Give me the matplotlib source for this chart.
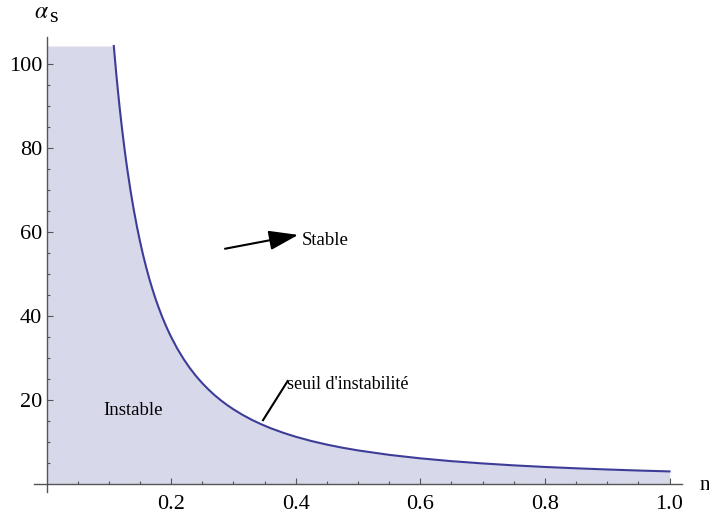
import numpy as np
import matplotlib
matplotlib.use("Agg")
import matplotlib.pyplot as plt

plt.rcParams['font.family'] = ['Liberation Serif', 'DejaVu Serif']
plt.rcParams['mathtext.fontset'] = 'stix'

# threshold curve alpha_s(n)
n_vals = [0.108, 0.11, 0.112, 0.115, 0.1175, 0.12, 0.1225, 0.125, 0.1275,
          0.13, 0.135, 0.14, 0.145, 0.15, 0.155, 0.16, 0.165, 0.17, 0.175,
          0.18, 0.185, 0.19, 0.195, 0.2, 0.21, 0.22, 0.23, 0.24, 0.25, 0.26,
          0.27, 0.28, 0.29, 0.3, 0.315, 0.33, 0.345, 0.36, 0.38, 0.4, 0.425,
          0.45, 0.475, 0.5, 0.55, 0.6, 0.65, 0.7, 0.75, 0.8, 0.85, 0.9, 0.95,
          1.0]
alpha_vals = [104.25, 100.83, 97.58, 93.01, 89.45, 86.11, 82.97, 80.00, 77.20,
              74.56, 69.68, 65.31, 61.36, 57.78, 54.53, 51.56, 48.85, 46.37,
              44.08, 41.98, 40.03, 38.23, 36.56, 35.00, 32.20, 29.75, 27.60,
              25.69, 24.00, 22.49, 21.12, 19.90, 18.79, 17.78, 16.43, 15.24,
              14.20, 13.27, 12.19, 11.25, 10.24, 9.38, 8.64, 8.00, 6.94, 6.11,
              5.44, 4.90, 4.44, 4.06, 3.74, 3.46, 3.21, 3.00]

x_ticks = [0.2, 0.4, 0.6, 0.8, 1.0]
x_ticklabels = ['0.2', '0.4', '0.6', '0.8', '1.0']
y_ticks = [20, 40, 60, 80, 100]
y_ticklabels = ['20', '40', '60', '80', '100']

line_col = '#3d3d99'
fill_col = '#d8d8eb'
axis_col = '#555555'

fig = plt.figure(figsize=(7.09, 5.22), dpi=100)
ax = fig.add_axes([34/709, 30/522, 648/709, 455/522])

# shaded unstable region (left of / below the curve)
n_fill = [0.0] + n_vals
a_fill = [alpha_vals[0]] + alpha_vals
ax.fill_between(n_fill, 0, a_fill, color=fill_col, linewidth=0)
ax.plot(n_vals, alpha_vals, color=line_col, lw=1.5, solid_joinstyle='round')

ax.set_xlim(-0.0201, 1.020)
ax.set_ylim(-1.9, 106.4)

# axes crossing at the origin
for s in ['top', 'right']:
    ax.spines[s].set_visible(False)
ax.spines['left'].set_position(('data', 0))
ax.spines['bottom'].set_position(('data', 0))
for s in ['left', 'bottom']:
    ax.spines[s].set_color(axis_col)
    ax.spines[s].set_linewidth(1.0)

ax.set_xticks(x_ticks)
ax.set_xticklabels(x_ticklabels)
ax.set_xticks(np.arange(0.05, 1.0, 0.05), minor=True)
ax.set_yticks(y_ticks)
ax.set_yticklabels(y_ticklabels)
ax.set_yticks(np.arange(5, 105, 5), minor=True)
ax.tick_params(which='both', direction='in', color=axis_col, width=0.8)
ax.tick_params(which='major', length=4.5, labelsize=16)
ax.tick_params(which='minor', length=2.3)
ax.tick_params(axis='x', which='major', pad=8)
ax.tick_params(axis='y', which='major', pad=3)

# axis labels
fig.text(705/709, 1 - 486/522, 'n', fontsize=15, ha='center', va='center')
fig.text(41/709, 1 - 12/522, r'$\alpha$', fontsize=17, ha='center', va='center')
fig.text(53/709, 1 - 18/522, 's', fontsize=16, ha='center', va='center')

# annotations
ax.annotate('', xy=(0.404, 59.3), xytext=(0.2865, 56.0),
            arrowprops=dict(arrowstyle='-|>,head_length=0.9,head_width=0.3',
                            mutation_scale=20, color='black', lw=1.5,
                            shrinkA=0, shrinkB=0))
ax.text(0.410, 57.9, 'Stable', fontsize=13.5, ha='left', va='center')
ax.text(0.139, 17.4, 'Instable', fontsize=13.5, ha='center', va='center')
ax.plot([0.3475, 0.387], [15.2, 24.5], color='black', lw=1.5)
ax.text(0.386, 23.6, "seuil d'instabilité", fontsize=13, ha='left', va='center')

plt.savefig('out.png', dpi=100)
